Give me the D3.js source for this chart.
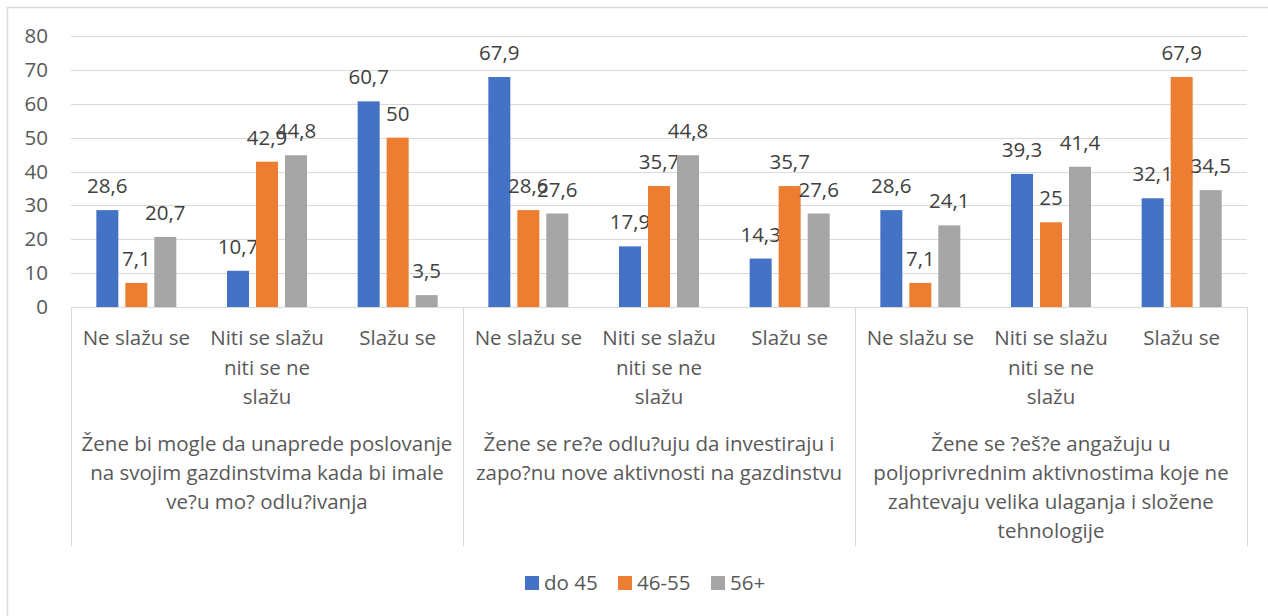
<!DOCTYPE html>
<html>
<head>
<meta charset="utf-8">
<script src="https://cdn.jsdelivr.net/npm/d3@7"></script>
<style>
  html, body { margin: 0; padding: 0; background: #fff; }
  svg { display: block; }
  text { font-family: "Open Sans", sans-serif; }
</style>
</head>
<body>
<svg id="chart" width="1268" height="616"></svg>
<script>
// ---- data ----
const groups = [
  ["Žene bi mogle da unaprede poslovanje", "na svojim gazdinstvima kada bi imale", "ve?u mo? odlu?ivanja"],
  ["Žene se re?e odlu?uju da investiraju i", "zapo?nu nove aktivnosti na gazdinstvu"],
  ["Žene se ?eš?e angažuju u", "poljoprivrednim aktivnostima koje ne", "zahtevaju velika ulaganja i složene", "tehnologije"]
];
const subCategories = [
  ["Ne slažu se"],
  ["Niti se slažu", "niti se ne", "slažu"],
  ["Slažu se"]
];
const seriesNames = ["do 45", "46-55", "56+"];
const seriesColors = ["#4472C4", "#ED7D31", "#A5A5A5"];
// values per category (group-major order), per series
const do45  = [28.6, 10.7, 60.7, 67.9, 17.9, 14.3, 28.6, 39.3, 32.1];
const s4655 = [7.1, 42.9, 50, 28.6, 35.7, 35.7, 7.1, 25, 67.9];
const s56   = [20.7, 44.8, 3.5, 27.6, 44.8, 27.6, 24.1, 41.4, 34.5];
const yTicks = [0, 10, 20, 30, 40, 50, 60, 70, 80];

const seriesValues = [do45, s4655, s56];

const svg = d3.select("#chart");
const FS = "20.5px";

// chart border (right and bottom edges lie outside the picture, as in the reference)
svg.append("rect").attr("x", 7.5).attr("y", 7.5).attr("width", 1400).attr("height", 800)
  .attr("fill", "#fff").attr("stroke", "#d9d9d9").attr("stroke-width", 1.5);

const plot = { left: 71, right: 1247, top: 36, bottom: 307 };

const cats = d3.range(groups.length * subCategories.length);
const x0 = d3.scaleBand().domain(cats).range([plot.left, plot.right]).paddingInner(0).paddingOuter(0);
const innerW = 22, gap = 7;
const y = d3.scaleLinear().domain([0, 80]).range([plot.bottom, plot.top]);

// gridlines
svg.append("g").selectAll("line").data(yTicks.filter(d => d > 0)).join("line")
  .attr("x1", plot.left).attr("x2", plot.right)
  .attr("y1", d => Math.round(y(d)) + 0.5).attr("y2", d => Math.round(y(d)) + 0.5)
  .attr("stroke", "#d9d9d9").attr("stroke-width", 1);

// y axis labels
const yAxis = d3.axisLeft(y).tickValues(yTicks).tickSize(0).tickPadding(0).tickFormat(d3.format("d"));
const gy = svg.append("g").attr("transform", `translate(${plot.left - 23},0)`).call(yAxis);
gy.select(".domain").remove();
gy.selectAll("text").attr("fill", "#595959").style("font-size", FS).style("font-family", "'Open Sans', sans-serif");

// bars
const offsets = [-(innerW + gap), 0, innerW + gap];
seriesValues.forEach((vals, si) => {
  const g = svg.append("g");
  g.selectAll("rect").data(vals).join("rect")
    .attr("x", (d, i) => x0(i) + x0.bandwidth() / 2 + offsets[si] - innerW / 2)
    .attr("width", innerW)
    .attr("y", d => y(d))
    .attr("height", d => y(0) - y(d))
    .attr("fill", seriesColors[si]);
  g.selectAll("text").data(vals).join("text")
    .attr("x", (d, i) => x0(i) + x0.bandwidth() / 2 + offsets[si])
    .attr("y", d => y(d) - 17)
    .attr("text-anchor", "middle")
    .attr("fill", "#404040")
    .style("font-size", FS)
    .text(d => String(d).replace(".", ","));
});

// category axis
const axisG = svg.append("g");
axisG.append("line").attr("x1", plot.left).attr("x2", plot.right)
  .attr("y1", plot.bottom + 0.5).attr("y2", plot.bottom + 0.5).attr("stroke", "#d9d9d9");
const groupW = x0.bandwidth() * subCategories.length;
const groupEdges = d3.range(groups.length + 1).map(i => plot.left + i * groupW);
axisG.selectAll("line.div").data(groupEdges).join("line").attr("class", "div")
  .attr("x1", d => Math.round(d) + 0.5).attr("x2", d => Math.round(d) + 0.5)
  .attr("y1", plot.bottom).attr("y2", 546).attr("stroke", "#d9d9d9");

// sub-category labels
cats.forEach(i => {
  const lines = subCategories[i % subCategories.length];
  const t = axisG.append("text").attr("text-anchor", "middle").attr("fill", "#595959")
    .style("font-size", FS);
  lines.forEach((l, li) => {
    t.append("tspan").attr("x", x0(i) + x0.bandwidth() / 2).attr("y", 345 + li * 29.5).text(l);
  });
});
// group labels
groups.forEach((lines, gi) => {
  const t = axisG.append("text").attr("text-anchor", "middle").attr("fill", "#595959")
    .style("font-size", FS);
  lines.forEach((l, li) => {
    t.append("tspan").attr("x", plot.left + gi * groupW + groupW / 2).attr("y", 451 + li * 29).text(l);
  });
});

// legend
const legendX = [525, 618, 711];
const lg = svg.append("g");
seriesNames.forEach((n, i) => {
  lg.append("rect").attr("x", legendX[i]).attr("y", 576).attr("width", 14).attr("height", 14).attr("fill", seriesColors[i]);
  lg.append("text").attr("x", legendX[i] + 19).attr("y", 590).attr("fill", "#595959")
    .style("font-size", FS).text(n);
});
</script>
</body>
</html>
